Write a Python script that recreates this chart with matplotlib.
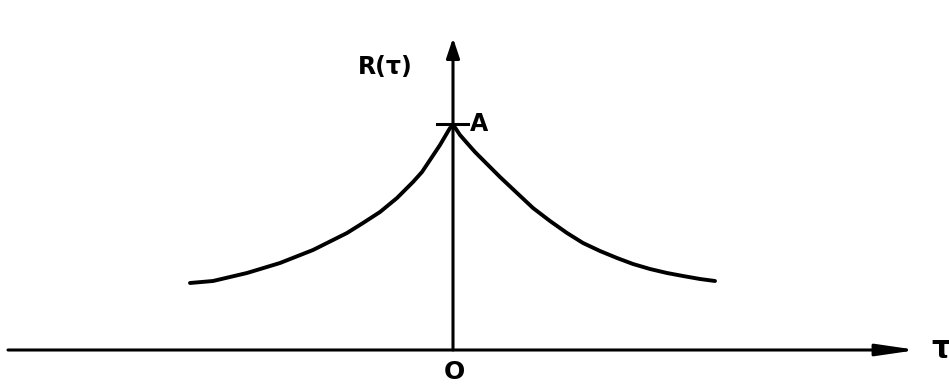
import numpy as np
import matplotlib
matplotlib.use("Agg")
import matplotlib.pyplot as plt

# curve points (tau, R), origin at the axis crossing
tau_left = [-263, -240, -206, -173, -140, -106, -90, -73, -56, -40, -31, -23, -13, -3]
r_left = [67, 69, 77, 87, 100, 117, 127, 138, 152, 168, 178, 190, 205, 222]
tau_right = [1, 7, 14, 22, 30, 47, 64, 80, 97, 114, 130, 147, 164, 180, 197, 214, 230, 247, 262]
r_right = [224, 215, 207, 198, 190, 173, 157, 142, 129, 117, 107, 99, 92, 86, 81, 77, 74, 71, 69]
peak_A = 226

fig = plt.figure(figsize=(9.49, 3.84), dpi=100)
ax = fig.add_axes([0, 0, 1, 1])
ax.set_xlim(-453, 496)
ax.set_ylim(-34, 350)
ax.axis("off")

# axes with arrows
ax.annotate("", xy=(464, 0), xytext=(-445, 0),
            arrowprops=dict(arrowstyle="-|>,head_length=2.4,head_width=0.35",
                            lw=2.2, color="black", shrinkA=0, shrinkB=0))
ax.annotate("", xy=(0, 312), xytext=(0, 0),
            arrowprops=dict(arrowstyle="-|>,head_length=1.2,head_width=0.4",
                            lw=2.2, color="black", shrinkA=0, shrinkB=0))

# curve
ax.plot(tau_left + tau_right, r_left + r_right, color="black", lw=2.8,
        solid_capstyle="round", solid_joinstyle="round")

# tick at A
ax.plot([-16, 15], [peak_A, peak_A], color="black", lw=2.2)

fnt = dict(family="DejaVu Sans", weight="bold", color="black")
ax.text(-68, 283, "R(τ)", fontsize=17, ha="center", va="center", **fnt)
ax.text(17, 226, "A", fontsize=17, ha="left", va="center", **fnt)
ax.text(1, -22, "O", fontsize=18, ha="center", va="center", **fnt)
ax.text(478, 0, "τ", fontsize=22, ha="left", va="center", **fnt)

fig.savefig("out.png", dpi=100, facecolor="white")
